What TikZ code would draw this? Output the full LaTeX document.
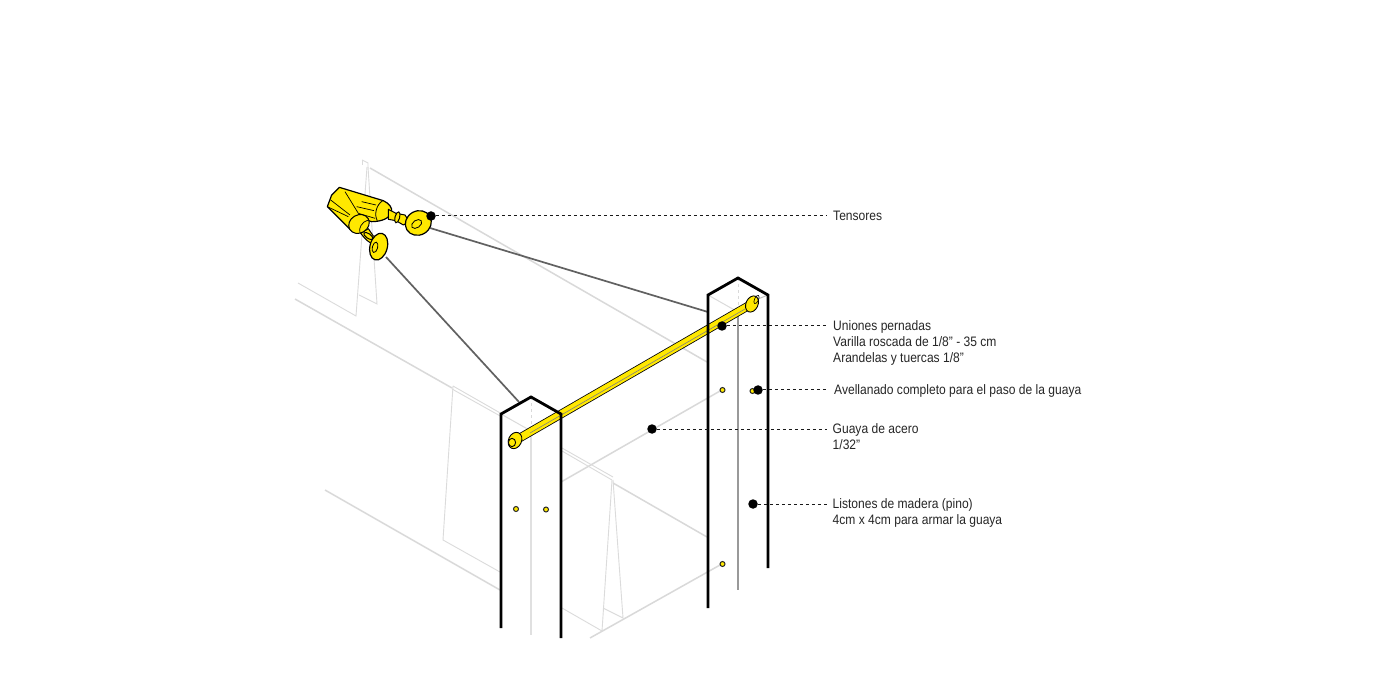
\documentclass[tikz,border=0pt]{standalone}
\usepackage{fontspec}
\setmainfont[FakeStretch=0.88]{Liberation Sans}
\usetikzlibrary{positioning, shapes, backgrounds}
\definecolor{myyellow}{RGB}{255,232,0}
\tikzset{
	postline/.style = {black,line width=2.8pt},
	faintline/.style = {black!15,line width=1.5pt},
	thinline/.style = {black!14,line width=0.9pt},
	midline/.style = {black!#1,line width=1.2pt},
	cableline/.style = {black!62,line width=1.7pt},
	partfill/.style = {draw=black,fill=myyellow,line width=1pt,line join=round},
	leaderdot/.style = {circle,fill=black,inner sep=0pt,minimum size=9.5pt},
	leaderline/.style = {black!90,line width=1pt,dash pattern=on 3pt off 3pt},
	holedot/.style = {circle,draw=black!85,fill=myyellow,line width=1pt,inner sep=0pt,minimum size=5pt},
	notetext/.style = {anchor=north west,inner sep=0pt,align=left,text=black!85,font=\fontsize{13.7}{16}\selectfont}
}
\NewDocumentCommand{\fpost}{m m m m m}{%
	% name, left corner x, top y, length and grey of the middle edge
	\coordinate (#1-l) at (#2,#3);
	\coordinate (#1-a) at (#2+30,#3-17);
	\coordinate (#1-r) at (#2+60,#3);
	\coordinate (#1-m) at (#2+30,#3+17);
	\draw[midline=#5] (#1-m) -- ++(0,#4);
	\draw[faintline,dashed,line width=0.9pt] (#1-a) -- (#1-m);
	\draw[thinline,line width=1pt] (#1-l) -- (#1-m);
}
\begin{document}
\begin{tikzpicture}[x=1pt,y=-1pt]
\useasboundingbox (0,0) rectangle (1400,700);
\fill[white] (0,0) rectangle (1400,700);

% light structure behind
\draw[faintline] (370,168) -- (707,362);
\draw[faintline] (295,299) -- (452,388);
\draw[faintline] (325,490) -- (500,590);
\draw[faintline] (561,482) -- (720,391);
\draw[faintline] (613,483) -- (707,537);
\draw[faintline] (590,638) -- (720,565);
\draw[thinline] (298,283) -- (356,316) -- (367,167);
\draw[thinline] (359,295) -- (377,304) -- (368,167);
\draw[thinline] (362,160) -- (368,163) -- (368,168);
\draw[thinline] (362,160) -- (362,165);
\draw[thinline] (453,386) -- (502,414);
\draw[thinline] (452,389) -- (502,417);
\draw[thinline] (453,386) -- (443,540) -- (500,572);
\draw[thinline] (562,448) -- (613,477);
\draw[thinline] (562,451) -- (612,480);
\draw[thinline] (562,608) -- (602,631) -- (612,480);
\draw[thinline] (603,608) -- (623,618) -- (613,480);

% posts
\fpost{pa}{501}{414}{204}{12}
\fpost{pb}{708}{295}{278}{40}

% holes
\node[holedot] (ha) at (516,509) {};
\node[holedot] (hb) at (546,509.5) {};
\node[holedot] (hc) at (722.5,390) {};
\node[holedot] (hd) at (752.5,391) {};
\node[holedot] (he) at (722.5,564) {};

% cables
\coordinate (eyea) at (430,228);
\coordinate (eyeb) at (386,257);
\coordinate (enda) at (708,312);
\coordinate (endb) at (519,402);
\draw[cableline] (eyea) -- (enda);
\draw[cableline] (eyeb) -- (endb);

% rod
\coordinate (roda) at (517,439.5);
\coordinate (rodb) at (755,302);
\draw[black,line width=8.6pt] (roda) -- (rodb);
\draw[myyellow,line width=7pt] (roda) -- (rodb);
\draw[black!50,line width=0.6pt] (530,433) -- (745,309);
\draw[black!25,line width=1pt] (758,299) -- (768,295);

% post outlines
\draw[postline,line join=miter] (501,628) -- (pa-l) -- (pa-a) -- (pa-r) -- (561,638);
\draw[postline,line join=miter] (708,608) -- (pb-l) -- (pb-a) -- (pb-r) -- (768,568);

% bolts
\draw[partfill,line width=0.9pt] (515,440.5) ellipse [x radius=6.5,y radius=8.5,rotate=-25];
\draw[partfill,line width=0.9pt] (512,442.5) ellipse [x radius=3.6,y radius=4.2];
\draw[partfill,line width=0.9pt] (752,304) ellipse [x radius=6,y radius=8.5,rotate=-25];
\draw[black,line width=0.6pt] (756.5,299.5) ellipse [x radius=2,y radius=4.5,rotate=-25];

% tensores
\begin{scope}[shift={(290,150)},scale=0.3333]
\path[partfill,line width=1.2pt] (148,112) -- (280,152) .. controls (298,160) and (308,175) .. (305,185) .. controls (300,205) and (275,215) .. (245,215) -- (235,212) -- (205,196) -- (180,238) -- (112,170) -- (125,135) -- cycle;
\draw[black,line width=0.7pt] (112,170) -- (175,200) (122,150) -- (180,195) (165,125) -- (205,190) -- (255,205) (200,170) -- (252,182) (215,155) -- (258,165);
\draw[black,line width=0.8pt] (278,152) .. controls (258,165) and (252,195) .. (262,212);
\draw[partfill] (295,178) -- (318,190) -- (345,195) -- (358,215) -- (340,225) -- (318,212) -- (295,208) -- cycle;
\draw[partfill] (322,202) ellipse [x radius=7,y radius=17,rotate=-15];
\draw[partfill] (212,250) -- (235,236) -- (250,258) -- (265,262) -- (250,285) -- (232,272) -- (222,262) -- cycle;
\draw[partfill] (235,258) ellipse [x radius=7,y radius=16,rotate=55];
\draw[partfill] (207,222) ellipse [x radius=32,y radius=27,rotate=30];
\draw[black,line width=0.7pt] (210,249) .. controls (205,235) and (215,215) .. (235,210);
\draw[partfill,line width=1.2pt] (385,219) ellipse [x radius=40,y radius=36,rotate=30];
\draw[black,line width=0.8pt] (380,222) ellipse [x radius=17,y radius=11,rotate=35];
\draw[partfill,line width=1.2pt] (266,290) ellipse [x radius=26,y radius=41,rotate=-15];
\draw[black,line width=0.8pt] (255,292) ellipse [x radius=8,y radius=16,rotate=-15];
\end{scope}

% notes
\node[notetext] (ntens) at (833,210.5) {Tensores};
\node[notetext] (nunio) at (833,320.5) {Uniones pernadas\\Varilla roscada de 1/8” - 35 cm\\Arandelas y tuercas 1/8”};
\node[notetext] (naven) at (834,384.5) {Avellanado completo para el paso de la guaya};
\node[notetext] (nguay) at (832.5,423.5) {Guaya de acero\\1/32”};
\node[notetext] (nlist) at (832.5,498.5) {Listones de madera (pino)\\4cm x 4cm para armar la guaya};

% leaders
\node[leaderdot] (dtens) at (431,216) {};
\node[leaderdot] (dunio) at (722,326) {};
\node[leaderdot] (daven) at (758,390) {};
\node[leaderdot] (dguay) at (652,429) {};
\node[leaderdot] (dlist) at (753,504) {};
\draw[leaderline] (dtens) -- ([xshift=-6pt]dtens -| ntens.west);
\draw[leaderline] (dunio) -- ([xshift=-6pt]dunio -| nunio.west);
\draw[leaderline] (daven) -- ([xshift=-6pt]daven -| naven.west);
\draw[leaderline] (dguay) -- ([xshift=-6pt]dguay -| nguay.west);
\draw[leaderline] (dlist) -- ([xshift=-6pt]dlist -| nlist.west);
\end{tikzpicture}
\end{document}
